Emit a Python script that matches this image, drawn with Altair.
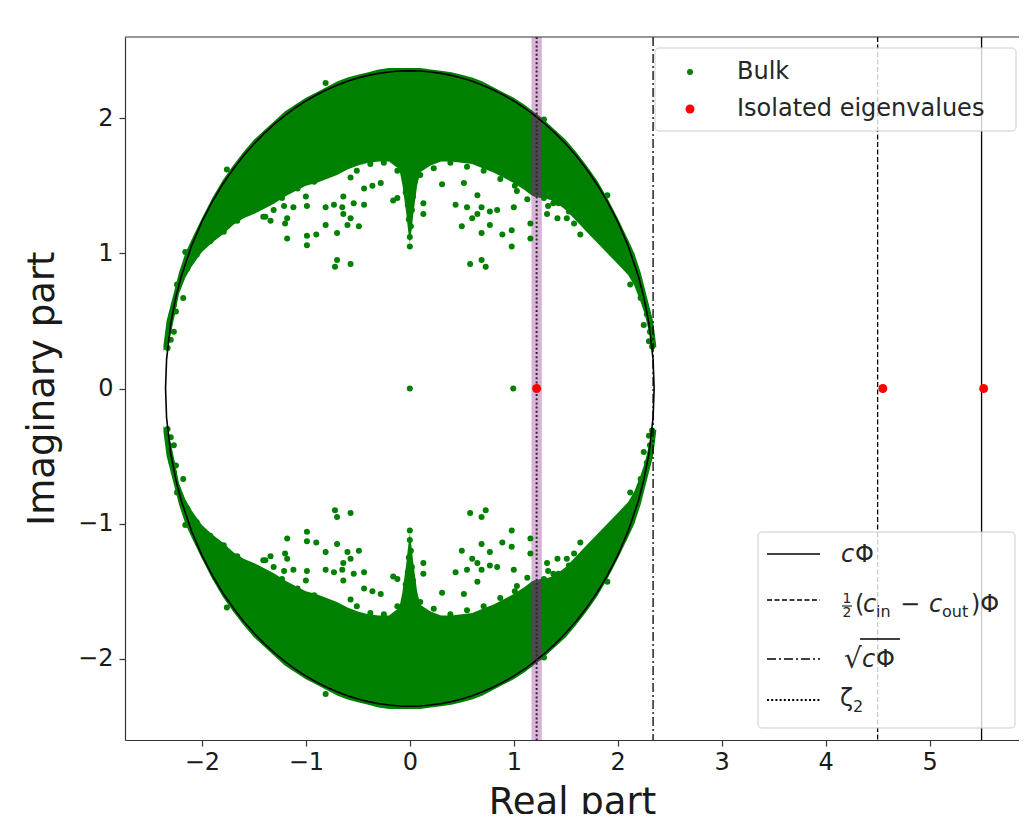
import altair as alt
import pandas as pd

# ---------------- data ----------------
# boundary circle sqrt(c*Phi) ~ 2.35, upper half (lower half = conjugates)
circ_x = [-2.35, -2.34, -2.30, -2.25, -2.20, -2.10, -2.00, -1.90, -1.80, -1.70, -1.60, -1.50,
          -1.40, -1.30, -1.20, -1.10, -1.00, -0.90, -0.80, -0.70, -0.60, -0.50, -0.40, -0.30,
          -0.20, -0.10, 0.00, 0.10, 0.20, 0.30, 0.40, 0.50, 0.60, 0.70, 0.80, 0.90, 1.00, 1.10,
          1.20, 1.30, 1.40, 1.50, 1.60, 1.70, 1.80, 1.90, 2.00, 2.10, 2.20, 2.25, 2.30, 2.34, 2.35]
circ_y = [0.000, 0.217, 0.482, 0.678, 0.826, 1.055, 1.234, 1.383, 1.511, 1.622, 1.721, 1.809,
          1.887, 1.958, 2.021, 2.077, 2.127, 2.171, 2.210, 2.243, 2.272, 2.296, 2.316, 2.331,
          2.341, 2.348, 2.350, 2.348, 2.341, 2.331, 2.316, 2.296, 2.272, 2.243, 2.210, 2.171,
          2.127, 2.077, 2.021, 1.958, 1.887, 1.809, 1.721, 1.622, 1.511, 1.383, 1.234, 1.055,
          0.826, 0.678, 0.482, 0.217, 0.000]

# dense part of the bulk (upper half): lower and upper edge of the dense band
band_x = [-2.37, -2.34, -2.30, -2.26, -2.22, -2.16, -2.10, -2.00, -1.90, -1.80, -1.70, -1.60,
          -1.50, -1.40, -1.30, -1.20, -1.10, -1.00, -0.90, -0.80, -0.70, -0.60, -0.50, -0.40,
          -0.30, -0.20, -0.10, -0.07, -0.035, -0.015, 0.00, 0.015, 0.035, 0.07, 0.10, 0.20,
          0.30, 0.40, 0.50, 0.60, 0.70, 0.80, 0.90, 1.00, 1.10, 1.17, 1.20, 1.27, 1.30, 1.40,
          1.50, 1.60, 1.70, 1.80, 1.90, 2.00, 2.10, 2.16, 2.22, 2.26, 2.30, 2.34, 2.37]
band_lo = [0.28, 0.30, 0.40, 0.55, 0.70, 0.82, 0.90, 1.01, 1.08, 1.14, 1.21, 1.26,
           1.29, 1.33, 1.37, 1.42, 1.46, 1.50, 1.52, 1.55, 1.58, 1.62, 1.65, 1.67,
           1.68, 1.68, 1.62, 1.50, 1.30, 1.16, 1.07, 1.16, 1.30, 1.50, 1.60, 1.65,
           1.68, 1.68, 1.67, 1.66, 1.63, 1.60, 1.56, 1.52, 1.47, 1.43, 1.42, 1.41, 1.41, 1.38,
           1.32, 1.24, 1.16, 1.08, 1.00, 0.92, 0.84, 0.76, 0.64, 0.55, 0.42, 0.32, 0.30]
band_hi = [0.32, 0.50, 0.62, 0.74, 0.86, 1.00, 1.10, 1.26, 1.41, 1.54, 1.65, 1.75,
           1.84, 1.91, 1.98, 2.05, 2.10, 2.15, 2.19, 2.23, 2.27, 2.30, 2.32, 2.34,
           2.36, 2.37, 2.37, 2.37, 2.37, 2.37, 2.37, 2.37, 2.37, 2.37, 2.37, 2.36,
           2.35, 2.34, 2.32, 2.30, 2.27, 2.23, 2.19, 2.15, 2.10, 2.06, 2.04, 2.00, 1.98, 1.91,
           1.84, 1.75, 1.65, 1.54, 1.41, 1.26, 1.10, 1.00, 0.86, 0.74, 0.62, 0.50, 0.32]

# scattered bulk eigenvalues (upper half)
out_x = [-0.70, -0.57, -0.72, -1.18, -0.99, -0.90, -0.99, -1.20, -1.18, -1.39, -1.34, -1.21,
         -1.12, -0.99, -1.00, -0.81, -0.81, -0.70, -0.73, -0.65, -0.64, -0.57, -0.60, -0.49,
         -0.54, -0.44, -0.64, -0.44, -0.36, -0.28, -0.16, -0.12,
         0.58, 0.69, 0.73, 0.98, 1.16, 0.50, 0.69, 0.77, 0.89, 0.98, 0.44, 0.55, 0.60, 0.65,
         0.69, 0.77, 0.84, 1.00, 1.16, 1.32, 1.42, 1.33, 1.64, 1.51, 1.58, 0.13, 0.13, 0.31,
         0.52, 0.65, 1.03, 1.13, 1.38,
         -2.24, -2.18, -2.27, -2.25, -2.29, -2.27, -2.30, -2.33, 2.12, 2.22, 2.28, 2.25, 2.31,
         2.30, 2.33, -0.81, -1.76, -2.16, 1.90, 1.29,
         # dots along the ragged edge of the dense band
         -1.41, -1.31, -1.23, -1.08, -0.92, -0.83, -0.57, -0.51, -0.38, -0.25, -0.12, -1.66,
         -1.79, -1.92, -2.05, -2.14,
         0.10, 0.23, 0.39, 0.55, 0.71, 0.87, 1.01, 1.29, 1.43, 1.53, 1.69, 1.83, 1.96, 2.09,
         # spike at zero real part
         0.00, 0.00, 0.01, -0.01, 0.02, -0.02, 0.03, -0.04]
out_y = [0.95, 0.92, 0.90, 1.11, 1.06, 1.14, 1.13, 1.22, 1.26, 1.27, 1.24, 1.35,
         1.34, 1.35, 1.42, 1.34, 1.21, 1.15, 1.36, 1.34, 1.29, 1.26, 1.21, 1.20,
         1.37, 1.36, 1.42, 1.48, 1.50, 1.52, 1.39, 1.41,
         0.92, 0.95, 0.90, 1.05, 1.11, 1.20, 1.15, 1.21, 1.14, 1.17, 1.36, 1.34, 1.26, 1.29,
         1.34, 1.31, 1.32, 1.34, 1.22, 1.29, 1.26, 1.35, 1.14, 1.26, 1.22, 1.37, 1.29, 1.51,
         1.52, 1.43, 1.46, 1.40, 1.37,
         0.77, 0.67, 0.62, 0.57, 0.55, 0.42, 0.36, 0.30, 0.77, 0.67, 0.55, 0.47, 0.42,
         0.35, 0.31, 2.26, 1.62, 1.01, 1.43, 1.99,
         1.27, 1.32, 1.41, 1.48, 1.53, 1.58, 1.56, 1.61, 1.66, 1.67, 1.61, 1.24,
         1.16, 1.09, 0.99, 0.89,
         1.58, 1.63, 1.67, 1.64, 1.61, 1.55, 1.50, 1.41, 1.37, 1.31, 1.21, 1.11, 1.01, 0.89,
         1.05, 1.12, 1.20, 1.25, 1.32, 1.36, 1.42, 1.45]

# real bulk eigenvalues
real_bulk = [0.0, 0.995]
# isolated eigenvalues
iso_x = [1.22, 4.55, 5.52]
# vertical reference lines
c_phi = 5.5
half_diff = 4.5
sqrt_c_phi = 2.34
zeta2 = 1.22
zeta2_band = [1.17, 1.27]

# ---------------- frames ----------------
n = len(circ_x)
circle_df = pd.DataFrame({
    "x": circ_x + circ_x[::-1],
    "y": circ_y + [-v for v in circ_y[::-1]],   # complex conjugates
    "o": list(range(2 * n)),
})
band_top = pd.DataFrame({"x": band_x, "lo": band_lo, "hi": band_hi})
band_bot = pd.DataFrame({"x": band_x, "lo": [-v for v in band_lo], "hi": [-v for v in band_hi]})
pts_df = pd.DataFrame({"x": out_x + out_x + real_bulk,
                       "y": out_y + [-v for v in out_y] + [0.0] * len(real_bulk)})
iso_df = pd.DataFrame({"x": iso_x, "y": [0.0] * len(iso_x)})

W, H = 894, 703
xs = alt.Scale(domain=[-2.74, 5.86], nice=False, zero=False)
ys = alt.Scale(domain=[-2.6, 2.6], nice=False, zero=False)
GREEN = "#008000"
one = pd.DataFrame({"a": [0]})

X = alt.X("x:Q", scale=xs, axis=alt.Axis(values=[-2, -1, 0, 1, 2, 3, 4, 5], format="d",
                                          title="Real part",
                                          titleY=73, titleBaseline="alphabetic", labelPadding=4))
Y = alt.Y("y:Q", scale=ys, axis=alt.Axis(values=[-2, -1, 0, 1, 2], format="d", title="Imaginary part",
                                          titleX=-72, titleY=351, titleAngle=270,
                                          titleBaseline="alphabetic", titleAlign="center",
                                          labelPadding=6))

purple = alt.Chart(pd.DataFrame({"x": [zeta2_band[0]], "x2": [zeta2_band[1]]})).mark_rect(
    color="#d9b3d9").encode(x=alt.X("x:Q", scale=xs), x2="x2:Q", y=alt.value(0), y2=alt.value(H))

area_top = alt.Chart(band_top).mark_area(color=GREEN, opacity=1).encode(
    x=X, y=alt.Y("lo:Q", scale=ys), y2="hi:Q")
area_bot = alt.Chart(band_bot).mark_area(color=GREEN, opacity=1).encode(
    x=alt.X("x:Q", scale=xs), y=alt.Y("lo:Q", scale=ys), y2="hi:Q")

pts = alt.Chart(pts_df).mark_circle(size=36, color=GREEN, opacity=1).encode(x=alt.X("x:Q", scale=xs), y=Y)

gray_top = alt.Chart(band_top).transform_filter(
    (alt.datum.x >= zeta2_band[0]) & (alt.datum.x <= zeta2_band[1])).mark_area(color="#4a4a4a").encode(
    x=alt.X("x:Q", scale=xs), y=alt.Y("lo:Q", scale=ys), y2="hi:Q")
gray_bot = alt.Chart(band_bot).transform_filter(
    (alt.datum.x >= zeta2_band[0]) & (alt.datum.x <= zeta2_band[1])).mark_area(color="#4a4a4a").encode(
    x=alt.X("x:Q", scale=xs), y=alt.Y("lo:Q", scale=ys), y2="hi:Q")

circle = alt.Chart(circle_df).mark_line(color="black", strokeWidth=1.6).encode(
    x=alt.X("x:Q", scale=xs), y=alt.Y("y:Q", scale=ys), order="o:Q")


def vline(v, dash, width=1.3, color="black"):
    kw = {"color": color, "strokeWidth": width}
    if dash:
        kw["strokeDash"] = dash
    return alt.Chart(pd.DataFrame({"x": [v]})).mark_rule(**kw).encode(x=alt.X("x:Q", scale=xs))


lines = [vline(c_phi, None), vline(half_diff, [5, 2.5]), vline(sqrt_c_phi, [9, 3, 2, 3]),
         vline(zeta2, [2, 2.2], 2, "#2a2a2a")]

iso = alt.Chart(iso_df).mark_circle(size=80, color="#ff0000", opacity=1).encode(
    x=alt.X("x:Q", scale=xs), y=alt.Y("y:Q", scale=ys))

top_spine = alt.Chart(one).mark_rule(color="#333", strokeWidth=1.2).encode(
    x=alt.value(0), x2=alt.value(W), y=alt.value(0))


def box(x1, y1, x2, y2):
    return alt.Chart(one).mark_rect(fill="white", fillOpacity=0.8, stroke="#cccccc", strokeWidth=1,
                                    cornerRadius=4).encode(
        x=alt.value(x1), x2=alt.value(x2), y=alt.value(y1), y2=alt.value(y2))


def txt(s, x, y, size=24, style="normal", baseline="middle", align="left"):
    return alt.Chart(one).mark_text(text=s, font="DejaVu Sans", fontSize=size, fontStyle=style,
                                    baseline=baseline, align=align, color="#262626").encode(
        x=alt.value(x), y=alt.value(y))


def hrule(x1, x2, y, dash=None, width=1.3):
    kw = {"color": "black", "strokeWidth": width}
    if dash:
        kw["strokeDash"] = dash
    return alt.Chart(one).mark_rule(**kw).encode(x=alt.value(x1), x2=alt.value(x2), y=alt.value(y))


def dot(x, y, size, color):
    return alt.Chart(one).mark_circle(size=size, color=color, opacity=1).encode(
        x=alt.value(x), y=alt.value(y))


legend1 = [box(530, 11, 891, 94), dot(565, 35, 36, GREEN), dot(565, 72, 80, "#ff0000"),
           txt("Bulk", 612, 35), txt("Isolated eigenvalues", 612, 72)]

legend2 = [box(633, 495, 890, 691),
           hrule(642, 695, 517), hrule(642, 695, 563, [5, 2.5]), hrule(642, 695, 622, [9, 3, 2, 3]),
           hrule(642, 695, 663, [2, 2.2], 2),
           # c Phi
           txt("c", 716, 525, style="italic", baseline="alphabetic"),
           txt("Φ", 730, 525, baseline="alphabetic"),
           # 1/2 (c_in - c_out) Phi
           txt("1", 722, 562, size=14, align="center"), txt("2", 722, 576, size=14, align="center"),
           hrule(717, 727, 569, None, 1),
           txt("(", 730, 575, baseline="alphabetic"),
           txt("c", 738, 575, style="italic", baseline="alphabetic"),
           txt("in", 751, 580, size=16, baseline="alphabetic"),
           txt("−", 775, 575, baseline="alphabetic"),
           txt("c", 804, 575, style="italic", baseline="alphabetic"),
           txt("out", 817, 580, size=16, baseline="alphabetic"),
           txt(")Φ", 846, 575, baseline="alphabetic"),
           # sqrt(c Phi)
           txt("√", 719, 631, size=28, baseline="alphabetic"),
           hrule(735, 775, 602, None, 1.3),
           txt("c", 737, 630, style="italic", baseline="alphabetic"),
           txt("Φ", 751, 630, baseline="alphabetic"),
           # zeta_2
           txt("ζ", 715, 669, baseline="alphabetic"),
           txt("2", 728, 675, size=16, baseline="alphabetic")]

layers = [purple, area_top, area_bot, pts, gray_top, gray_bot, circle] + lines + [iso, top_spine] \
    + legend1 + legend2

chart = alt.layer(*layers).properties(
    width=W, height=H,
    padding={"left": 117, "top": 29, "right": 0, "bottom": 74},
    autosize=alt.AutoSizeParams(type="none"),
).configure_view(stroke=None).configure_axis(
    grid=False, domainColor="#333", tickColor="#333", domainWidth=1.2, tickWidth=1.2, tickSize=6,
    labelFont="DejaVu Sans", titleFont="DejaVu Sans", labelFontSize=24, titleFontSize=37,
    titleFontWeight="normal", labelColor="#1a1a1a", titleColor="#1a1a1a",
)

chart.save("out.html", embed_options={"renderer": "svg", "actions": False})
